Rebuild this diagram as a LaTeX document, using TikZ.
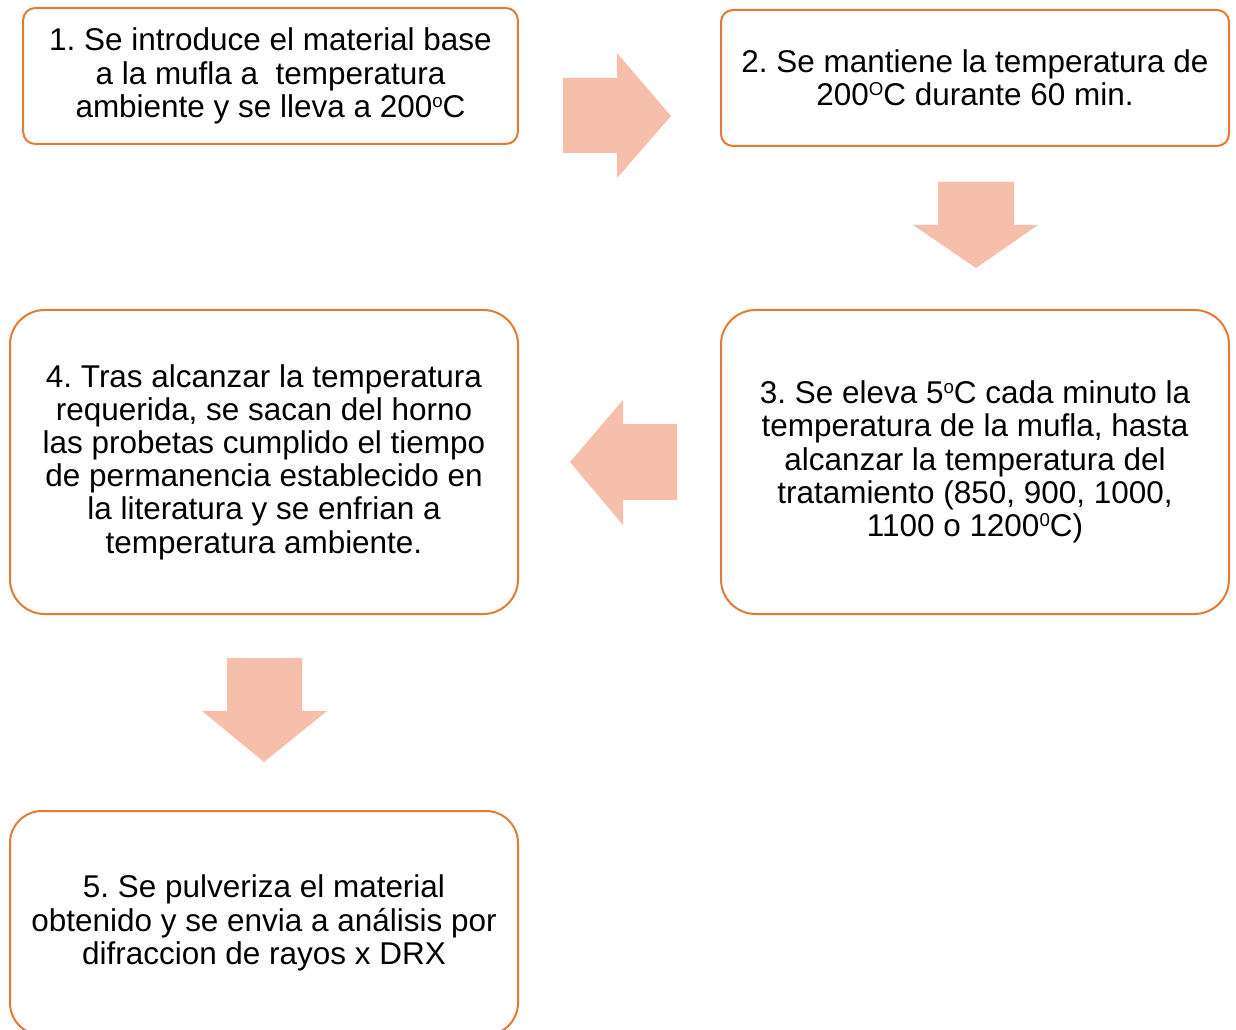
\documentclass[tikz,border=0pt]{standalone}
\usepackage{fontspec}
\setmainfont{Liberation Sans}
\frenchspacing
\definecolor{boxline}{HTML}{E37A35}
\definecolor{arrowfill}{HTML}{F5BFAC}
\newcommand{\sups}[1]{\raisebox{0.6ex}{\fontsize{14}{14}\selectfont #1}}
\tikzset{
  paso/.style={draw=boxline, line width=1.5pt, align=center, inner sep=0pt,
    font=\fontsize{23.6}{24.9}\selectfont},
  flecha/.style={fill=arrowfill}
}
\begin{document}
\begin{tikzpicture}[x=0.75pt,y=-0.75pt]
        \useasboundingbox (0,0) rectangle (1236,1030);
        % pasos
        \node[paso, rounded corners=9pt, minimum width=371pt, minimum height=102pt] (p1) at (270.5,76)
            {1. Se introduce el material base\\ a la mufla a \ temperatura\\ ambiente y se lleva a 200\sups{o}C};
        \node[paso, rounded corners=9pt, minimum width=381pt, minimum height=102pt] (p2) at (975,78)
            {2. Se mantiene la temperatura de\\ 200\sups{O}C durante 60 min.};
        \node[paso, rounded corners=26pt, minimum width=381pt, minimum height=228pt] (p3) at (975,462)
            {3. Se eleva 5\sups{o}C cada minuto la\\ temperatura de la mufla, hasta\\ alcanzar la temperatura del\\ tratamiento (850, 900, 1000,\\ 1100 o 1200\sups{0}C)};
        \node[paso, rounded corners=26pt, minimum width=381pt, minimum height=228pt] (p4) at (264,462)
            {4. Tras alcanzar la temperatura\\ requerida, se sacan del horno\\ las probetas cumplido el tiempo\\ de permanencia establecido en\\ la literatura y se enfrian a\\ temperatura ambiente.};
        \node[paso, rounded corners=24pt, minimum width=381pt, minimum height=168pt] (p5) at (264,923)
            {5. Se pulveriza el material\\ obtenido y se envia a análisis por\\ difraccion de rayos x DRX};
        % flechas
        \fill[flecha] (563,78) -- (617,78) -- (617,53) -- (671,116) -- (617,178) -- (617,153) -- (563,153) -- cycle;
        \fill[flecha] (938,182) -- (1014,182) -- (1014,225) -- (1038,225) -- (976,268) -- (913,225) -- (938,225) -- cycle;
        \fill[flecha] (677,424) -- (623,424) -- (623,400) -- (570,462) -- (623,525) -- (623,500) -- (677,500) -- cycle;
        \fill[flecha] (227,658) -- (302,658) -- (302,711) -- (327,711) -- (264,762) -- (202,711) -- (227,711) -- cycle;

        \end{tikzpicture}
\end{document}
